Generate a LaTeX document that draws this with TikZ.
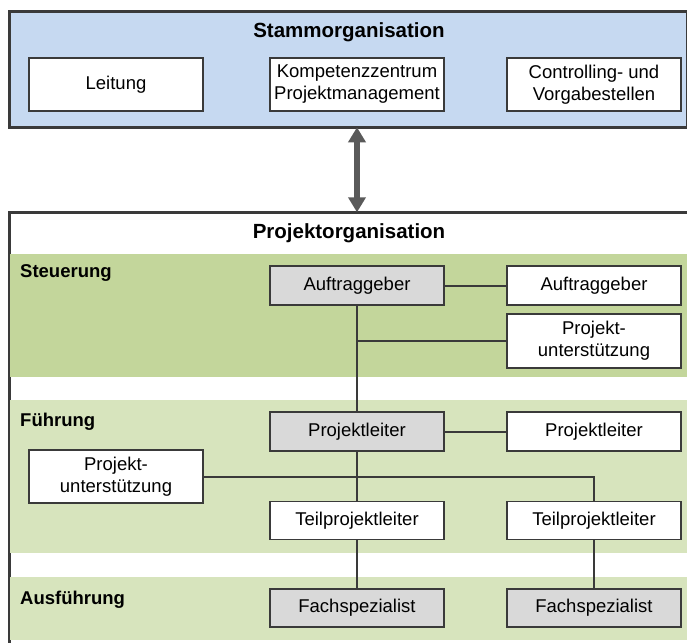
\documentclass[tikz,border=0pt]{standalone}
\usepackage{fontspec}
\setmainfont{Liberation Sans}
\usetikzlibrary{arrows.meta}

\definecolor{framegray}{HTML}{3A3A3A}
\definecolor{arrowgray}{HTML}{5A5A5A}
\definecolor{stammblue}{HTML}{C6D9F1}
\definecolor{steuergreen}{HTML}{C3D69B}
\definecolor{fuehrgreen}{HTML}{D7E4BD}
\definecolor{boxgray}{HTML}{D9D9D9}

\tikzset{
  frame/.style={draw=framegray, line width=2.6pt, inner sep=0pt, anchor=north west},
  orgbox/.style={draw=framegray, line width=1.8pt, fill=white, minimum width=174pt,
    inner sep=0pt, align=center, font=\fontsize{18.5}{22}\selectfont},
  graybox/.style={orgbox, fill=boxgray},
  band/.style={inner sep=0pt, anchor=north west, minimum width=677pt},
  heading/.style={font=\fontsize{20.5}{24}\bfseries\selectfont},
  levellabel/.style={anchor=west, inner sep=0pt, font=\fontsize{18.5}{22}\bfseries\selectfont},
  link/.style={draw=framegray, line width=2pt},
  twoway/.style={draw=arrowgray, line width=5.5pt,
    {Triangle[width=17pt,length=15pt]}-{Triangle[width=17pt,length=15pt]}}
}

\begin{document}
\begin{tikzpicture}[x=1pt,y=-1pt]
  \useasboundingbox (0,0) rectangle (687,642);
  \clip (0,0) rectangle (687,642);

  % parent organisation
  \node[frame, fill=stammblue, minimum width=678pt, minimum height=116pt] (stamm) at (8,10) {};
  \node[heading] (stammtitle) at (349,32) {Stammorganisation};
  \node[orgbox, minimum height=53pt] (leitung) at (116,84.5) {Leitung};
  \node[orgbox, minimum height=53pt] (kompetenz) at (357,84.5) {Kompetenzzentrum\\Projektmanagement};
  \node[orgbox, minimum height=53pt] (controlling) at (594,84.5) {Controlling- und\\Vorgabestellen};

  % project organisation
  \node[frame, fill=white, minimum width=690pt, minimum height=460pt] (projorg) at (8,211) {};
  \node[heading] (projtitle) at (349,233) {Projektorganisation};

  % level bands
  \node[band, fill=steuergreen, minimum height=123pt] (bandsteuer) at (10,254) {};
  \node[band, fill=fuehrgreen, minimum height=153pt] (bandfuehr) at (10,400) {};
  \node[band, fill=fuehrgreen, minimum height=63pt] (bandaus) at (10,577) {};
  \node[levellabel] (lsteuer) at (20,273) {Steuerung};
  \node[levellabel] (lfuehr) at (20,422) {Führung};
  \node[levellabel] (laus) at (20,600) {Ausführung};

  % boxes
  \node[graybox, minimum height=39pt] (ag) at (357,285.5) {Auftraggeber};
  \node[orgbox, minimum height=39pt] (agr) at (594,285.5) {Auftraggeber};
  \node[orgbox, minimum height=54pt] (pus) at (594,341) {Projekt-\\unterstützung};
  \node[graybox, minimum height=39pt] (pl) at (357,431.5) {Projektleiter};
  \node[orgbox, minimum height=39pt] (plr) at (594,431.5) {Projektleiter};
  \node[orgbox, minimum height=53pt] (puf) at (116,476.5) {Projekt-\\unterstützung};
  \node[orgbox, minimum height=38pt] (tpl) at (357,520.5) {Teilprojektleiter};
  \node[orgbox, minimum height=38pt] (tpr) at (594,520.5) {Teilprojektleiter};
  \node[graybox, minimum height=38pt] (fsl) at (357,608) {Fachspezialist};
  \node[graybox, minimum height=38pt] (fsr) at (594,608) {Fachspezialist};

  % connectors
  \coordinate (agbranch) at (357,341);
  \coordinate (pubranch) at (594,476.5);
  \draw[link] (ag.east) -- (agr.west);
  \draw[link] (ag.south) -- (pl.north);
  \draw[link] (agbranch) -- (pus.west);
  \draw[link] (pl.east) -- (plr.west);
  \draw[link] (pl.south) -- (tpl.north);
  \draw[link] (puf.east) -- (pubranch) -- (tpr.north);
  \draw[link] (tpl.south) -- (fsl.north);
  \draw[link] (tpr.south) -- (fsr.north);

  % link between the two organisations
  \draw[twoway] ([yshift=1.3pt]stamm.south -| kompetenz.south) -- ([yshift=-1.3pt]projorg.north -| kompetenz.south);
\end{tikzpicture}
\end{document}
